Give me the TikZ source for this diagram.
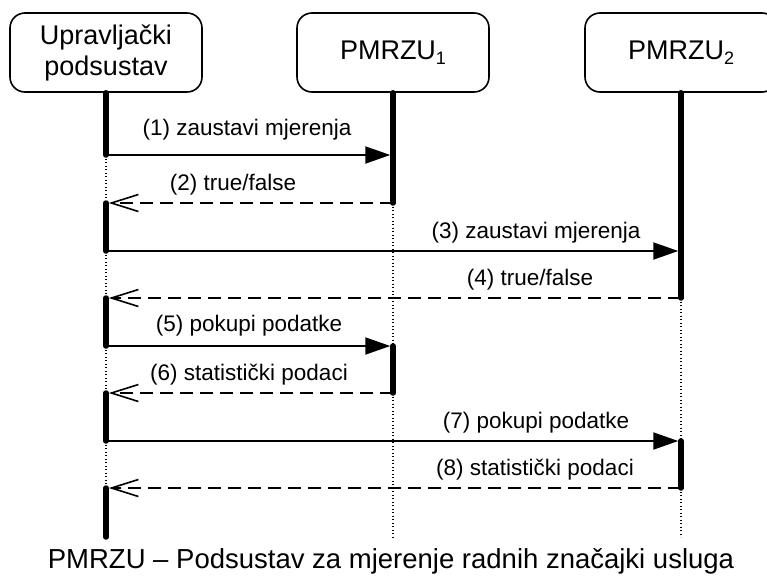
\documentclass[tikz,border=0pt]{standalone}
\usepackage{fontspec}
\setmainfont{Liberation Sans}
\usetikzlibrary{arrows.meta}
\newcommand{\subidx}[1]{\raisebox{-5pt}{\fontsize{18}{18}\selectfont #1}}
\begin{document}
\begin{tikzpicture}[x=1pt,y=-1pt,
  actor/.style={draw, line width=1.6pt, rounded corners=15pt,
    minimum width=192pt, minimum height=79pt, inner sep=0pt,
    font=\fontsize{27}{31}\selectfont, align=center},
  bar/.style={line width=5.5pt, line cap=round},
  life/.style={line width=1.3pt, dash pattern=on 1.3pt off 2.2pt},
  call/.style={line width=2pt, shorten >=2.75pt,
    -{Triangle[length=25pt,width=17pt]}},
  reply/.style={line width=2pt, dash pattern=on 13pt off 7pt, shorten >=2.75pt,
    -{Straight Barb[length=27pt,width=17pt,line width=1.6pt]}},
  lbl/.style={font=\fontsize{22.5}{26}\selectfont, anchor=base, inner sep=0pt}]
\useasboundingbox (0,0) rectangle (767,576);
\clip (0,0) rectangle (767,576);

% participants
\node[actor] (us) at (106,52.5) {Upravljački\\podsustav};
\node[actor] (p1) at (393,52.5) {PMRZU\subidx{1}};
\node[actor] (p2) at (681,52.5) {PMRZU\subidx{2}};

% message points on the lifelines
\foreach \i/\y in {1/155,2/203,3/251,4/298,5/346,6/393,7/441,8/488,9/537} {
  \coordinate (u\i) at (us.south |- 0,\y);
  \coordinate (a\i) at (p1.south |- 0,\y);
  \coordinate (b\i) at (p2.south |- 0,\y);
}

% lifeline of the control subsystem
\draw[bar] (us.south) -- (u1);
\draw[life] (u1) -- (u2);
\draw[bar] (u2) -- (u3);
\draw[life] (u3) -- (u4);
\draw[bar] (u4) -- (u5);
\draw[life] (u5) -- (u6);
\draw[bar] (u6) -- (u7);
\draw[life] (u7) -- (u8);
\draw[bar] (u8) -- (u9);

% lifeline of PMRZU 1
\draw[bar] (p1.south) -- (a2);
\draw[life] (a2) -- (a5);
\draw[bar] (a5) -- (a6);
\draw[life] (a6) -- (a9);

% lifeline of PMRZU 2
\draw[bar] (p2.south) -- (b4);
\draw[life] (b4) -- (b7);
\draw[bar] (b7) -- (b8);
\draw[life] (b8) -- (b9);

% messages
\draw[call] (u1) -- (a1);
\draw[reply] (a2) -- (u2);
\draw[call] (u3) -- (b3);
\draw[reply] (b4) -- (u4);
\draw[call] (u5) -- (a5);
\draw[reply] (a6) -- (u6);
\draw[call] (u7) -- (b7);
\draw[reply] (b8) -- (u8);

% message labels
\node[lbl] (l1) at (247,135) {(1) zaustavi mjerenja};
\node[lbl] (l2) at (233,190) {(2) true/false};
\node[lbl] (l3) at (536,238) {(3) zaustavi mjerenja};
\node[lbl] (l4) at (530,285) {(4) true/false};
\node[lbl] (l5) at (249,331.5) {(5) pokupi podatke};
\node[lbl] (l6) at (249,380) {(6) statistički podaci};
\node[lbl] (l7) at (536,428) {(7) pokupi podatke};
\node[lbl] (l8) at (535,475) {(8) statistički podaci};

% legend
\node[font=\fontsize{27.5}{31}\selectfont, anchor=base, inner sep=0pt] (legend)
  at (391,568) {PMRZU – Podsustav za mjerenje radnih značajki usluga};
\end{tikzpicture}
\end{document}
